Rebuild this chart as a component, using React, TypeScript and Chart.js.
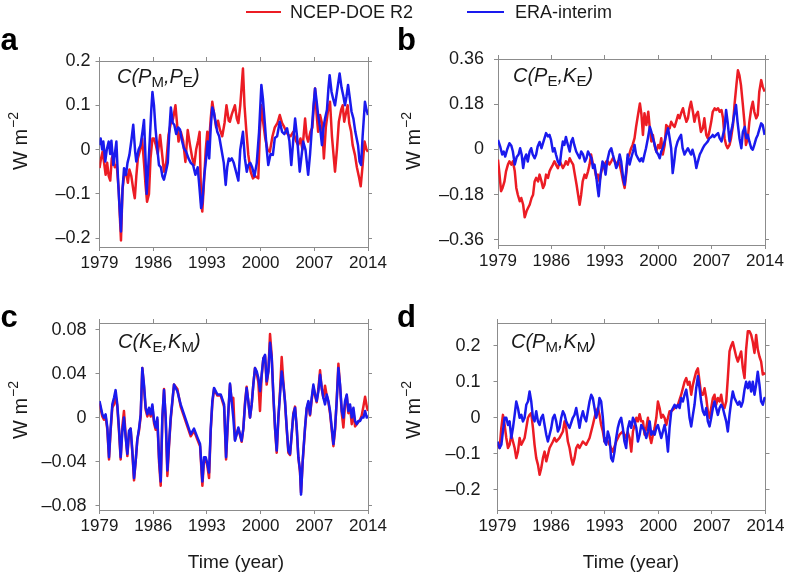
import React, { useEffect, useRef } from 'react';
import { Chart, registerables } from 'chart.js';

Chart.register(...registerables);

type Pt = [number, number];

// ---------- axis ticks ----------
const yearTicks = [1979, 1986, 1993, 2000, 2007, 2014];
const yearLabels = ['1979', '1986', '1993', '2000', '2007', '2014'];

const NEG = '\u2013';
const aTicks = [-0.2, -0.1, 0, 0.1, 0.2];
const aTickLabels = [NEG + '0.2', NEG + '0.1', '0', '0.1', '0.2'];
const bTicks = [-0.36, -0.18, 0, 0.18, 0.36];
const bTickLabels = [NEG + '0.36', NEG + '0.18', '0', '0.18', '0.36'];
const cTicks = [-0.08, -0.04, 0, 0.04, 0.08];
const cTickLabels = [NEG + '0.08', NEG + '0.04', '0', '0.04', '0.08'];
const dTicks = [-0.2, -0.1, 0, 0.1, 0.2];
const dTickLabels = [NEG + '0.2', NEG + '0.1', '0', '0.1', '0.2'];

// ---------- series (year, W m^-2) ----------
const aEra: Pt[] = [
  [1979.0, 0.01], [1979.15, 0.025], [1979.35, 0.0], [1979.5, 0.018], [1979.75, -0.027], [1979.95, 0.0],
  [1980.2, 0.018], [1980.4, -0.01], [1980.55, 0.02], [1980.8, -0.035], [1981.0, -0.01], [1981.2, 0.018],
  [1981.45, -0.08], [1981.65, -0.14], [1981.8, -0.185], [1982.0, -0.09], [1982.2, -0.042], [1982.45, -0.057],
  [1982.65, -0.03], [1982.9, -0.012], [1983.15, 0.02], [1983.4, 0.056], [1983.65, -0.005], [1983.8, -0.027],
  [1984.1, 0.0], [1984.35, 0.01], [1984.6, 0.04], [1984.8, 0.067], [1985.0, -0.02], [1985.15, -0.1],
  [1985.35, -0.04], [1985.55, 0.02], [1985.75, 0.09], [1985.9, 0.13], [1986.1, 0.1], [1986.3, 0.048],
  [1986.55, 0.0], [1986.75, -0.035], [1987.0, -0.04], [1987.2, -0.06], [1987.4, -0.068], [1987.65, -0.05],
  [1987.9, -0.03], [1988.1, 0.04], [1988.3, 0.095], [1988.55, 0.06], [1988.75, 0.056], [1989.0, 0.035],
  [1989.25, 0.05], [1989.5, 0.045], [1989.75, 0.02], [1990.0, 0.003], [1990.3, -0.005], [1990.6, -0.02],
  [1990.9, -0.03], [1991.2, -0.035], [1991.5, -0.057], [1991.8, -0.04], [1992.0, -0.08], [1992.25, -0.132],
  [1992.4, -0.12], [1992.65, -0.06], [1992.9, -0.02], [1993.1, 0.018], [1993.3, -0.02], [1993.5, 0.05],
  [1993.7, 0.095], [1993.9, 0.085], [1994.15, 0.06], [1994.35, 0.04], [1994.6, 0.03], [1994.9, 0.0],
  [1995.2, -0.03], [1995.45, -0.08], [1995.65, -0.04], [1995.85, -0.02], [1996.0, -0.025], [1996.25, -0.02],
  [1996.5, -0.03], [1996.8, -0.05], [1997.1, -0.07], [1997.35, 0.0], [1997.7, 0.04], [1997.95, -0.02],
  [1998.2, -0.05], [1998.4, -0.035], [1998.65, -0.03], [1998.9, -0.04], [1999.2, -0.06], [1999.5, -0.03],
  [1999.8, 0.04], [2000.1, 0.146], [2000.3, 0.115], [2000.55, 0.06], [2000.8, 0.0], [2001.0, -0.035],
  [2001.3, -0.01], [2001.6, -0.012], [2001.85, 0.026], [2002.15, 0.03], [2002.5, 0.063], [2002.8, 0.04],
  [2003.1, 0.035], [2003.45, 0.048], [2003.75, 0.02], [2004.0, -0.035], [2004.25, 0.02], [2004.5, 0.07],
  [2004.75, 0.03], [2005.1, -0.05], [2005.3, -0.02], [2005.55, 0.018], [2005.85, 0.0], [2006.2, -0.057],
  [2006.45, -0.01], [2006.65, 0.04], [2006.9, 0.1], [2007.1, 0.138], [2007.3, 0.11], [2007.5, 0.078],
  [2007.75, 0.05], [2008.0, 0.01], [2008.2, 0.05], [2008.4, 0.07], [2008.65, 0.09], [2008.85, 0.14],
  [2009.0, 0.168], [2009.25, 0.13], [2009.45, 0.115], [2009.7, 0.1], [2009.95, 0.13], [2010.3, 0.172],
  [2010.55, 0.14], [2010.8, 0.12], [2011.0, 0.1], [2011.2, 0.12], [2011.4, 0.146], [2011.6, 0.12],
  [2011.85, 0.086], [2012.1, 0.07], [2012.35, 0.04], [2012.7, 0.01], [2012.9, -0.027], [2013.1, -0.035],
  [2013.3, 0.03], [2013.6, 0.108], [2013.8, 0.09], [2014.0, 0.078],
];
const aNcep: Pt[] = [
  [1979.0, -0.042], [1979.2, -0.02], [1979.4, -0.005], [1979.6, -0.03], [1979.8, -0.057], [1980.0, -0.03],
  [1980.2, -0.06], [1980.4, -0.07], [1980.6, -0.02], [1980.8, -0.01], [1981.0, -0.04], [1981.25, -0.035],
  [1981.5, -0.09], [1981.65, -0.15], [1981.8, -0.205], [1982.0, -0.09], [1982.2, -0.06], [1982.45, -0.05],
  [1982.7, -0.075], [1982.9, -0.045], [1983.15, -0.06], [1983.4, -0.09], [1983.6, -0.11], [1983.8, -0.06],
  [1984.0, -0.02], [1984.3, 0.0], [1984.55, 0.025], [1984.8, -0.03], [1985.0, -0.08], [1985.2, -0.118],
  [1985.45, -0.1], [1985.65, -0.02], [1985.9, 0.025], [1986.1, 0.025], [1986.35, 0.01], [1986.6, -0.01],
  [1986.9, 0.033], [1987.1, 0.0], [1987.4, -0.05], [1987.7, -0.03], [1988.0, 0.033], [1988.3, 0.06],
  [1988.6, 0.07], [1988.9, 0.1], [1989.1, 0.06], [1989.3, 0.018], [1989.6, 0.04], [1989.9, 0.02],
  [1990.2, -0.028], [1990.5, 0.044], [1990.8, 0.01], [1991.1, -0.02], [1991.35, -0.035], [1991.6, 0.0],
  [1991.85, 0.02], [1992.05, 0.04], [1992.25, -0.12], [1992.4, -0.14], [1992.6, -0.08], [1992.85, 0.0],
  [1993.05, 0.04], [1993.3, 0.02], [1993.5, 0.07], [1993.7, 0.108], [1993.95, 0.08], [1994.2, 0.05],
  [1994.45, 0.065], [1994.7, 0.045], [1995.0, 0.03], [1995.3, 0.06], [1995.55, 0.1], [1995.85, 0.065],
  [1996.0, 0.063], [1996.25, 0.08], [1996.65, 0.1], [1996.9, 0.07], [1997.1, 0.06], [1997.35, 0.1],
  [1997.7, 0.183], [1997.9, 0.1], [1998.15, 0.04], [1998.4, -0.012], [1998.7, -0.05], [1999.0, -0.065],
  [1999.3, -0.06], [1999.7, -0.065], [1999.9, 0.04], [2000.1, 0.1], [2000.35, 0.06], [2000.6, 0.026],
  [2000.9, 0.0], [2001.2, -0.005], [2001.55, 0.03], [2001.85, 0.05], [2002.2, 0.06], [2002.5, 0.078],
  [2002.8, 0.06], [2003.1, 0.05], [2003.35, 0.04], [2003.6, 0.033], [2003.9, 0.03], [2004.25, 0.04],
  [2004.6, 0.02], [2004.9, 0.01], [2005.2, 0.025], [2005.45, 0.0], [2005.8, 0.07], [2006.0, 0.03],
  [2006.2, 0.018], [2006.5, 0.04], [2006.75, 0.05], [2006.95, 0.1], [2007.1, 0.138], [2007.3, 0.08],
  [2007.5, 0.04], [2007.75, 0.078], [2008.0, 0.06], [2008.25, -0.02], [2008.5, 0.05], [2008.8, 0.09],
  [2009.05, 0.108], [2009.3, 0.03], [2009.55, -0.02], [2009.7, -0.05], [2009.95, 0.0], [2010.2, 0.063],
  [2010.5, 0.09], [2010.7, 0.1], [2010.9, 0.063], [2011.1, 0.08], [2011.35, 0.1], [2011.55, 0.06],
  [2011.8, 0.04], [2012.0, 0.01], [2012.3, -0.012], [2012.55, -0.04], [2012.8, -0.06], [2013.05, -0.083],
  [2013.3, -0.035], [2013.55, 0.018], [2013.8, 0.0], [2014.0, -0.005],
];

const bEra: Pt[] = [
  [1979.0, 0.038], [1979.3, 0.01], [1979.55, -0.02], [1979.75, -0.008], [1979.95, -0.028], [1980.2, 0.0],
  [1980.5, 0.025], [1980.75, 0.015], [1980.95, -0.008], [1981.2, -0.06], [1981.45, -0.03], [1981.7, -0.02],
  [1981.9, 0.005], [1982.1, -0.02], [1982.3, -0.074], [1982.5, -0.035], [1982.7, -0.02], [1982.9, -0.048],
  [1983.15, -0.008], [1983.35, 0.005], [1983.55, -0.02], [1983.8, -0.035], [1984.0, -0.02], [1984.2, 0.012],
  [1984.45, 0.03], [1984.7, 0.005], [1984.9, 0.025], [1985.1, 0.045], [1985.3, 0.065], [1985.55, 0.052],
  [1985.75, 0.058], [1985.95, 0.038], [1986.2, -0.008], [1986.4, 0.005], [1986.6, -0.02], [1986.85, -0.048],
  [1987.1, -0.06], [1987.3, -0.008], [1987.5, 0.032], [1987.7, 0.018], [1987.9, 0.05], [1988.1, 0.025],
  [1988.4, -0.008], [1988.6, 0.032], [1988.8, 0.045], [1989.0, 0.018], [1989.25, -0.008], [1989.45, -0.02],
  [1989.7, -0.035], [1989.9, -0.008], [1990.15, -0.02], [1990.4, -0.048], [1990.6, -0.035], [1990.8, -0.008],
  [1991.0, -0.02], [1991.25, -0.035], [1991.45, -0.074], [1991.65, -0.06], [1991.9, -0.113], [1992.05, -0.153],
  [1992.2, -0.186], [1992.45, -0.1], [1992.7, -0.048], [1992.9, -0.06], [1993.1, -0.1], [1993.3, -0.048],
  [1993.6, -0.008], [1993.85, 0.005], [1994.05, -0.02], [1994.3, -0.048], [1994.5, -0.074], [1994.7, -0.06],
  [1994.95, -0.02], [1995.15, -0.048], [1995.4, -0.113], [1995.6, -0.14], [1995.8, -0.087], [1996.0, -0.02],
  [1996.25, -0.06], [1996.45, -0.035], [1996.7, -0.008], [1996.9, 0.018], [1997.1, -0.02], [1997.35, -0.035],
  [1997.6, -0.047], [1997.8, -0.035], [1998.0, -0.048], [1998.2, -0.02], [1998.4, 0.005], [1998.65, 0.045],
  [1998.9, 0.09], [1999.1, 0.07], [1999.3, 0.045], [1999.55, 0.018], [1999.75, -0.008], [2000.0, -0.02],
  [2000.2, -0.035], [2000.4, -0.008], [2000.6, 0.005], [2000.85, 0.032], [2001.05, 0.058], [2001.3, 0.084],
  [2001.5, 0.045], [2001.7, 0.005], [2001.9, -0.094], [2002.1, -0.048], [2002.3, 0.005], [2002.55, 0.032],
  [2002.75, 0.045], [2003.0, 0.058], [2003.2, 0.005], [2003.45, -0.02], [2003.65, -0.008], [2003.9, 0.005],
  [2004.1, -0.008], [2004.3, -0.02], [2004.5, -0.001], [2004.8, -0.035], [2005.0, -0.074], [2005.2, -0.048],
  [2005.45, -0.02], [2005.65, -0.008], [2005.85, 0.005], [2006.1, 0.018], [2006.3, 0.025], [2006.5, 0.032],
  [2006.7, 0.045], [2006.95, 0.05], [2007.15, 0.058], [2007.35, 0.05], [2007.6, 0.058], [2007.85, 0.065],
  [2008.05, 0.045], [2008.3, 0.032], [2008.5, 0.058], [2008.7, 0.084], [2008.9, 0.157], [2009.1, 0.11],
  [2009.35, 0.032], [2009.55, 0.07], [2009.75, 0.097], [2009.95, 0.137], [2010.2, 0.177], [2010.4, 0.11],
  [2010.65, 0.045], [2010.9, 0.005], [2011.1, 0.07], [2011.35, 0.09], [2011.55, 0.045], [2011.75, 0.058],
  [2011.95, 0.032], [2012.2, 0.005], [2012.4, -0.001], [2012.6, 0.018], [2012.85, 0.045], [2013.05, 0.058],
  [2013.3, 0.084], [2013.5, 0.104], [2013.7, 0.097], [2013.95, 0.058],
];
const bNcep: Pt[] = [
  [1979.0, -0.04], [1979.2, -0.1], [1979.4, -0.166], [1979.6, -0.153], [1979.85, -0.127], [1980.05, -0.087],
  [1980.3, -0.06], [1980.5, -0.047], [1980.75, -0.06], [1980.95, -0.047], [1981.2, -0.087], [1981.4, -0.153],
  [1981.6, -0.18], [1981.85, -0.206], [1982.05, -0.193], [1982.3, -0.22], [1982.5, -0.27], [1982.75, -0.245],
  [1982.95, -0.232], [1983.15, -0.22], [1983.4, -0.193], [1983.6, -0.18], [1983.8, -0.127], [1984.0, -0.113],
  [1984.25, -0.127], [1984.45, -0.1], [1984.7, -0.127], [1984.9, -0.153], [1985.1, -0.14], [1985.3, -0.1],
  [1985.55, -0.113], [1985.75, -0.087], [1985.95, -0.074], [1986.2, -0.06], [1986.4, -0.047], [1986.6, -0.06],
  [1986.85, -0.074], [1987.1, -0.047], [1987.3, -0.06], [1987.5, -0.074], [1987.75, -0.06], [1987.9, -0.047],
  [1988.15, -0.06], [1988.4, -0.035], [1988.6, -0.047], [1988.85, -0.06], [1989.0, -0.087], [1989.3, -0.14],
  [1989.5, -0.18], [1989.7, -0.22], [1989.9, -0.18], [1990.1, -0.127], [1990.35, -0.1], [1990.55, -0.113],
  [1990.8, -0.087], [1991.0, -0.06], [1991.2, -0.02], [1991.45, -0.06], [1991.65, -0.074], [1991.9, -0.113],
  [1992.1, -0.1], [1992.3, -0.127], [1992.55, -0.087], [1992.75, -0.074], [1992.95, -0.06], [1993.2, -0.047],
  [1993.4, -0.047], [1993.6, -0.06], [1993.85, -0.047], [1994.05, -0.035], [1994.3, -0.047], [1994.5, -0.06],
  [1994.75, -0.047], [1994.95, -0.06], [1995.15, -0.087], [1995.4, -0.127], [1995.6, -0.153], [1995.8, -0.1],
  [1996.0, -0.035], [1996.2, -0.02], [1996.45, 0.005], [1996.65, 0.018], [1996.9, 0.045], [1997.1, 0.09],
  [1997.35, 0.137], [1997.6, 0.183], [1997.8, 0.14], [1998.0, 0.058], [1998.2, 0.144], [1998.45, 0.097],
  [1998.7, 0.15], [1998.9, 0.084], [1999.1, 0.032], [1999.3, 0.058], [1999.55, 0.012], [1999.75, -0.008],
  [2000.0, 0.018], [2000.2, 0.005], [2000.4, 0.045], [2000.6, -0.02], [2000.85, 0.018], [2001.05, 0.097],
  [2001.3, 0.09], [2001.5, 0.084], [2001.7, 0.11], [2001.95, 0.097], [2002.15, 0.09], [2002.35, 0.11],
  [2002.6, 0.137], [2002.8, 0.124], [2003.0, 0.144], [2003.25, 0.164], [2003.45, 0.137], [2003.7, 0.11],
  [2003.9, 0.124], [2004.1, 0.164], [2004.3, 0.19], [2004.55, 0.15], [2004.75, 0.11], [2004.95, 0.137],
  [2005.2, 0.15], [2005.4, 0.11], [2005.6, 0.07], [2005.85, 0.084], [2006.05, 0.124], [2006.3, 0.058],
  [2006.5, 0.045], [2006.7, 0.07], [2006.95, 0.11], [2007.15, 0.15], [2007.4, 0.164], [2007.6, 0.157],
  [2007.85, 0.164], [2008.05, 0.15], [2008.3, 0.157], [2008.5, 0.124], [2008.7, 0.045], [2008.9, 0.018],
  [2009.1, 0.005], [2009.35, 0.018], [2009.55, 0.045], [2009.8, 0.097], [2010.0, 0.177], [2010.25, 0.256],
  [2010.45, 0.315], [2010.65, 0.295], [2010.85, 0.256], [2011.1, 0.177], [2011.3, 0.11], [2011.5, 0.018],
  [2011.75, 0.045], [2011.95, 0.11], [2012.2, 0.164], [2012.4, 0.19], [2012.6, 0.15], [2012.85, 0.124],
  [2013.05, 0.137], [2013.25, 0.23], [2013.5, 0.276], [2013.7, 0.25], [2013.95, 0.23],
];

const cEra: Pt[] = [
  [1979.0, 0.015], [1979.37, 0.003], [1979.58, 0.0], [1979.8, 0.003], [1980.02, -0.009], [1980.24, -0.036],
  [1980.45, -0.01], [1980.67, 0.012], [1980.89, 0.018], [1981.1, 0.025], [1981.32, 0.012], [1981.54, -0.01],
  [1981.76, -0.036], [1981.98, -0.012], [1982.19, 0.0], [1982.41, -0.018], [1982.63, -0.033], [1982.85, -0.012],
  [1983.06, -0.01], [1983.28, -0.03], [1983.5, -0.055], [1983.71, -0.04], [1983.93, -0.02], [1984.15, -0.01],
  [1984.37, 0.003], [1984.58, 0.045], [1984.8, 0.03], [1985.02, 0.009], [1985.24, 0.003], [1985.45, 0.009],
  [1985.67, 0.003], [1985.89, 0.012], [1986.11, -0.003], [1986.32, -0.009], [1986.54, 0.0], [1986.76, -0.036],
  [1986.98, -0.058], [1987.19, 0.0], [1987.41, 0.025], [1987.63, 0.0], [1987.85, -0.048], [1988.06, -0.024],
  [1988.28, 0.0], [1988.71, 0.03], [1989.15, 0.024], [1989.58, 0.012], [1990.02, 0.003], [1990.45, -0.006],
  [1990.89, -0.015], [1991.32, -0.01], [1991.76, -0.018], [1992.11, -0.024], [1992.41, -0.058], [1992.63, -0.036],
  [1992.85, -0.036], [1993.06, -0.042], [1993.28, -0.05], [1993.5, -0.01], [1993.71, 0.015], [1993.93, 0.027],
  [1994.37, 0.021], [1994.8, 0.021], [1995.24, 0.012], [1995.5, -0.036], [1995.75, 0.0], [1996.01, 0.031],
  [1996.23, 0.015], [1996.44, 0.0], [1996.66, -0.021], [1996.88, -0.015], [1997.1, -0.009], [1997.31, -0.015],
  [1997.53, -0.021], [1997.75, -0.01], [1997.97, 0.012], [1998.18, 0.027], [1998.4, 0.015], [1998.62, 0.0],
  [1998.84, 0.012], [1999.05, 0.03], [1999.27, 0.045], [1999.49, 0.042], [1999.71, 0.036], [1999.92, 0.024],
  [2000.14, 0.039], [2000.36, 0.054], [2000.58, 0.057], [2000.79, 0.033], [2001.01, 0.042], [2001.23, 0.068],
  [2001.45, 0.054], [2001.66, 0.021], [2001.88, -0.009], [2002.1, -0.03], [2002.31, 0.0], [2002.53, 0.021],
  [2002.75, 0.042], [2002.97, 0.03], [2003.18, 0.015], [2003.4, -0.009], [2003.62, -0.03], [2003.84, -0.033],
  [2004.05, -0.015], [2004.27, 0.003], [2004.49, 0.009], [2004.71, -0.009], [2004.92, -0.036], [2005.14, -0.048],
  [2005.27, -0.07], [2005.49, -0.039], [2005.79, -0.009], [2006.01, 0.009], [2006.23, 0.015], [2006.44, 0.003],
  [2006.66, 0.018], [2006.88, 0.03], [2007.1, 0.021], [2007.31, 0.015], [2007.53, 0.024], [2007.75, 0.039],
  [2007.97, 0.027], [2008.18, 0.018], [2008.4, 0.012], [2008.62, 0.021], [2008.84, 0.015], [2009.05, 0.006],
  [2009.27, -0.009], [2009.49, -0.024], [2009.71, -0.009], [2009.92, 0.015], [2010.14, 0.045], [2010.36, 0.03],
  [2010.58, 0.006], [2010.79, 0.0], [2011.01, 0.015], [2011.23, 0.021], [2011.44, 0.006], [2011.66, 0.012],
  [2011.88, 0.0], [2012.1, 0.009], [2012.31, -0.003], [2012.53, -0.006], [2012.75, -0.003], [2012.97, -0.003],
  [2013.18, 0.0], [2013.4, 0.0], [2013.62, 0.006], [2013.84, 0.0], [2014.0, 0.002],
];
const cNcep: Pt[] = [
  [1979.0, 0.013], [1979.37, 0.001], [1979.58, -0.002], [1979.8, 0.001], [1980.02, -0.011], [1980.24, -0.038],
  [1980.45, -0.012], [1980.67, 0.009], [1980.89, 0.012], [1981.1, 0.02], [1981.32, 0.01], [1981.54, -0.012],
  [1981.76, -0.038], [1981.98, -0.008], [1982.19, 0.006], [1982.41, -0.016], [1982.63, -0.035], [1982.85, -0.014],
  [1983.06, -0.01], [1983.28, -0.032], [1983.5, -0.057], [1983.71, -0.04], [1983.93, -0.02], [1984.15, -0.012],
  [1984.37, 0.001], [1984.58, 0.045], [1984.8, 0.028], [1985.02, 0.007], [1985.24, 0.001], [1985.45, 0.007],
  [1985.67, 0.001], [1985.89, 0.01], [1986.11, -0.005], [1986.32, -0.011], [1986.54, -0.002], [1986.76, -0.04],
  [1986.98, -0.062], [1987.19, -0.002], [1987.41, 0.026], [1987.63, -0.002], [1987.85, -0.053], [1988.06, -0.026],
  [1988.28, -0.002], [1988.71, 0.03], [1989.15, 0.026], [1989.58, 0.01], [1990.02, 0.001], [1990.45, -0.008],
  [1990.89, -0.017], [1991.32, -0.012], [1991.76, -0.02], [1992.11, -0.026], [1992.41, -0.062], [1992.63, -0.038],
  [1992.85, -0.038], [1993.06, -0.044], [1993.28, -0.055], [1993.5, -0.012], [1993.71, 0.013], [1993.93, 0.026],
  [1994.37, 0.02], [1994.8, 0.02], [1995.24, 0.01], [1995.5, -0.038], [1995.75, -0.002], [1996.01, 0.03],
  [1996.23, 0.015], [1996.44, 0.018], [1996.66, -0.02], [1996.88, -0.015], [1997.1, -0.01], [1997.31, -0.016],
  [1997.53, -0.022], [1997.75, -0.01], [1997.97, 0.014], [1998.18, 0.028], [1998.4, 0.014], [1998.62, 0.0],
  [1998.84, 0.012], [1999.05, 0.03], [1999.27, 0.045], [1999.49, 0.04], [1999.71, 0.032], [1999.92, 0.006],
  [2000.14, 0.038], [2000.36, 0.054], [2000.58, 0.056], [2000.79, 0.03], [2001.01, 0.042], [2001.23, 0.076],
  [2001.45, 0.056], [2001.66, 0.02], [2001.88, -0.01], [2002.1, -0.032], [2002.31, -0.002], [2002.53, 0.024],
  [2002.75, 0.055], [2002.97, 0.032], [2003.18, 0.014], [2003.4, -0.01], [2003.62, -0.032], [2003.84, -0.034],
  [2004.05, -0.016], [2004.27, 0.004], [2004.49, 0.01], [2004.71, -0.01], [2004.92, -0.036], [2005.14, -0.05],
  [2005.27, -0.068], [2005.49, -0.04], [2005.79, -0.01], [2006.01, 0.008], [2006.23, 0.014], [2006.44, 0.002],
  [2006.66, 0.016], [2006.88, 0.028], [2007.1, 0.02], [2007.31, 0.014], [2007.53, 0.026], [2007.75, 0.043],
  [2007.97, 0.026], [2008.18, 0.018], [2008.4, 0.029], [2008.62, 0.02], [2008.84, 0.014], [2009.05, 0.004],
  [2009.27, -0.011], [2009.49, -0.026], [2009.71, -0.011], [2009.92, 0.016], [2010.14, 0.049], [2010.36, 0.028],
  [2010.58, 0.004], [2010.79, -0.009], [2011.01, 0.012], [2011.23, 0.02], [2011.44, 0.004], [2011.66, 0.01],
  [2011.88, -0.006], [2012.1, 0.006], [2012.31, -0.008], [2012.53, -0.006], [2012.75, -0.004], [2012.97, -0.002],
  [2013.18, 0.002], [2013.4, 0.01], [2013.62, 0.019], [2013.84, 0.01], [2014.0, 0.006],
];

const dEra: Pt[] = [
  [1979.0, -0.066], [1979.28, -0.084], [1979.5, -0.075], [1979.71, -0.038], [1979.93, 0.0], [1980.15, 0.0],
  [1980.37, -0.02], [1980.58, -0.01], [1980.8, -0.056], [1981.02, -0.028], [1981.24, 0.008], [1981.45, 0.045],
  [1981.67, 0.027], [1981.89, 0.0], [1982.11, 0.008], [1982.32, -0.01], [1982.54, 0.0], [1982.76, 0.036],
  [1982.98, 0.045], [1983.19, 0.073], [1983.41, 0.045], [1983.63, 0.0], [1983.84, -0.01], [1984.06, 0.018],
  [1984.28, -0.01], [1984.5, -0.02], [1984.71, 0.0], [1984.93, 0.008], [1985.15, -0.02], [1985.37, -0.047],
  [1985.58, -0.066], [1985.8, -0.047], [1986.02, -0.028], [1986.24, 0.0], [1986.45, 0.008], [1986.67, -0.01],
  [1986.89, -0.038], [1987.1, -0.028], [1987.32, 0.0], [1987.54, 0.018], [1987.76, 0.008], [1987.97, -0.01],
  [1988.19, -0.02], [1988.41, -0.028], [1988.84, 0.0], [1989.06, 0.008], [1989.28, 0.027], [1989.5, 0.0],
  [1989.71, -0.028], [1989.93, 0.0], [1990.15, 0.018], [1990.37, 0.0], [1990.58, -0.01], [1990.8, 0.018],
  [1991.02, 0.045], [1991.24, 0.064], [1991.45, 0.055], [1991.67, 0.027], [1991.89, 0.0], [1992.11, 0.018],
  [1992.32, 0.055], [1992.54, 0.045], [1992.76, 0.0], [1992.98, -0.066], [1993.19, -0.075], [1993.41, -0.038],
  [1993.63, -0.056], [1993.84, -0.112], [1994.06, -0.121], [1994.28, -0.094], [1994.5, -0.056], [1994.71, -0.028],
  [1994.93, -0.01], [1995.15, 0.0], [1995.37, -0.028], [1995.58, -0.066], [1995.8, -0.084], [1996.02, -0.03],
  [1996.25, -0.01], [1996.47, -0.028], [1996.69, 0.0], [1996.91, -0.01], [1997.13, -0.028], [1997.34, -0.066],
  [1997.56, -0.047], [1997.78, -0.02], [1998.0, -0.028], [1998.21, -0.038], [1998.43, -0.056], [1998.65, -0.038],
  [1998.87, -0.01], [1999.08, -0.047], [1999.3, -0.038], [1999.52, -0.047], [1999.74, -0.028], [1999.95, -0.02],
  [2000.17, -0.038], [2000.39, -0.056], [2000.6, -0.038], [2000.82, -0.02], [2001.04, -0.047], [2001.26, -0.094],
  [2001.47, -0.028], [2001.69, 0.018], [2001.91, 0.027], [2002.13, 0.036], [2002.34, 0.027], [2002.56, 0.036],
  [2002.78, 0.027], [2002.99, 0.055], [2003.21, 0.045], [2003.43, 0.064], [2003.65, 0.078], [2003.87, 0.045],
  [2004.08, 0.0], [2004.3, -0.024], [2004.52, 0.008], [2004.73, 0.036], [2004.95, 0.082], [2005.17, 0.115],
  [2005.39, 0.082], [2005.6, 0.045], [2005.82, 0.018], [2006.04, 0.008], [2006.26, 0.027], [2006.47, -0.01],
  [2006.69, -0.024], [2006.91, 0.0], [2007.13, 0.027], [2007.34, 0.045], [2007.56, 0.027], [2007.78, 0.008],
  [2008.0, 0.027], [2008.21, 0.036], [2008.43, 0.027], [2008.65, 0.008], [2008.87, -0.01], [2009.08, -0.038],
  [2009.3, 0.008], [2009.52, 0.045], [2009.73, 0.073], [2009.95, 0.055], [2010.17, 0.045], [2010.39, 0.036],
  [2010.6, 0.045], [2010.82, 0.031], [2011.04, 0.045], [2011.26, 0.078], [2011.47, 0.1], [2011.69, 0.082],
  [2011.91, 0.1], [2012.13, 0.073], [2012.34, 0.1], [2012.56, 0.064], [2012.78, 0.092], [2012.99, 0.128],
  [2013.21, 0.092], [2013.43, 0.045], [2013.65, 0.036], [2013.87, 0.055], [2014.0, 0.05],
];
const dNcep: Pt[] = [
  [1979.0, -0.075], [1979.28, -0.084], [1979.5, -0.028], [1979.71, 0.008], [1979.93, -0.02], [1980.15, -0.056],
  [1980.37, -0.084], [1980.58, -0.075], [1980.8, -0.047], [1981.02, -0.066], [1981.24, -0.084], [1981.45, -0.112],
  [1981.67, -0.094], [1981.89, -0.056], [1982.11, -0.075], [1982.32, -0.066], [1982.54, -0.056], [1982.76, -0.028],
  [1982.98, 0.0], [1983.19, 0.008], [1983.41, 0.013], [1983.63, -0.028], [1983.84, -0.075], [1984.06, -0.112],
  [1984.28, -0.13], [1984.5, -0.158], [1984.71, -0.14], [1984.93, -0.112], [1985.15, -0.094], [1985.37, -0.121],
  [1985.58, -0.103], [1985.8, -0.084], [1986.02, -0.075], [1986.24, -0.066], [1986.45, -0.056], [1986.67, -0.066],
  [1987.1, -0.056], [1987.54, -0.038], [1987.76, -0.01], [1987.97, -0.028], [1988.19, -0.066], [1988.41, -0.084],
  [1988.63, -0.112], [1988.84, -0.13], [1989.06, -0.112], [1989.28, -0.084], [1989.5, -0.075], [1989.71, -0.084],
  [1989.93, -0.075], [1990.15, -0.066], [1990.58, -0.075], [1991.02, -0.056], [1991.45, -0.02], [1991.67, 0.0],
  [1991.89, 0.018], [1992.11, 0.027], [1992.32, 0.008], [1992.54, -0.02], [1992.76, -0.038], [1992.98, -0.066],
  [1993.19, -0.056], [1993.63, -0.075], [1994.06, -0.094], [1994.5, -0.066], [1994.93, -0.047], [1995.37, -0.038],
  [1995.8, -0.056], [1996.0, -0.04], [1996.25, -0.056], [1996.47, -0.094], [1996.69, -0.038], [1996.91, -0.02],
  [1997.13, 0.0], [1997.34, -0.01], [1997.56, 0.01], [1997.78, -0.01], [1998.0, -0.01], [1998.21, -0.047],
  [1998.43, -0.028], [1998.65, 0.0], [1998.87, -0.05], [1999.08, -0.07], [1999.3, -0.047], [1999.52, -0.028],
  [1999.74, 0.0], [1999.95, 0.045], [2000.17, 0.027], [2000.39, 0.0], [2000.6, 0.008], [2000.82, 0.0],
  [2001.04, -0.02], [2001.26, 0.0], [2001.47, 0.018], [2001.69, 0.018], [2002.13, 0.027], [2002.56, 0.036],
  [2002.99, 0.064], [2003.43, 0.1], [2003.65, 0.11], [2003.87, 0.092], [2004.08, 0.1], [2004.3, 0.064],
  [2004.52, 0.092], [2004.73, 0.11], [2004.95, 0.128], [2005.17, 0.137], [2005.39, 0.1], [2005.6, 0.064],
  [2005.82, 0.064], [2006.04, 0.082], [2006.26, 0.055], [2006.47, 0.018], [2006.69, 0.0], [2006.91, 0.027],
  [2007.13, 0.055], [2007.34, 0.064], [2007.56, 0.036], [2007.78, 0.055], [2008.0, 0.045], [2008.21, 0.064],
  [2008.43, 0.036], [2008.65, 0.027], [2008.87, 0.045], [2009.08, 0.11], [2009.3, 0.184], [2009.52, 0.2],
  [2009.73, 0.21], [2009.95, 0.19], [2010.17, 0.17], [2010.39, 0.156], [2010.6, 0.17], [2010.82, 0.184],
  [2011.04, 0.138], [2011.26, 0.11], [2011.47, 0.19], [2011.69, 0.24], [2011.91, 0.24], [2012.13, 0.23],
  [2012.34, 0.21], [2012.56, 0.18], [2012.78, 0.23], [2012.99, 0.19], [2013.21, 0.17], [2013.43, 0.156],
  [2013.65, 0.12], [2014.0, 0.124],
];

// ---------- styling ----------
const PAGE_W = 788;
const PAGE_H = 576;
const FONT = '"Liberation Sans", Arial, Helvetica, sans-serif';
const TEXT = '#1a1a1a';
const FRAME = '#8c8c8c';
const RED = '#ec1c24';
const BLUE = '#1a1aee';

type Box = { l: number; r: number; t: number; b: number };

type PanelProps = {
  box: Box;
  yMin: number;
  yMax: number;
  yTicks: number[];
  yLabels: string[];
  labelGap: number;
  era: Pt[];
  ncep: Pt[];
};

function Panel({ box, yMin, yMax, yTicks, yLabels, labelGap, era, ncep }: PanelProps) {
  const ref = useRef<HTMLCanvasElement | null>(null);
  useEffect(() => {
    const YW = 70;
    const XH = 36;
    const EDGE = 5;
    const TL = 4;
    const xFont = { family: FONT, size: 17 };
    const yFont = { family: FONT, size: 18 };
    const grid = { display: true, drawOnChartArea: false, drawTicks: true, tickLength: TL, color: FRAME, lineWidth: 1 };
    const border = { display: true, color: FRAME, width: 1 };
    const setTicks = (vals: number[]) => (s: any) => {
      s.ticks = vals.map((v) => ({ value: v }));
    };
    const line = (label: string, pts: Pt[], color: string) => ({
      label,
      data: pts.map(([x, y]) => ({ x, y })),
      borderColor: color,
      borderWidth: 2.5,
      pointRadius: 0,
      tension: 0,
      fill: false,
      borderJoinStyle: 'round',
    });
    const chart = new Chart(ref.current as HTMLCanvasElement, {
      type: 'line',
      data: {
        datasets: [line('ERA-interim', era, BLUE), line('NCEP-DOE R2', ncep, RED)],
      },
      options: {
        responsive: false,
        animation: false,
        devicePixelRatio: 1,
        events: [],
        layout: {
          padding: {
            left: box.l - YW,
            right: PAGE_W - box.r - EDGE,
            top: box.t - EDGE,
            bottom: PAGE_H - box.b - XH,
          },
        },
        plugins: { legend: { display: false }, tooltip: { enabled: false } },
        scales: {
          x: {
            type: 'linear',
            position: 'bottom',
            min: 1979,
            max: 2014,
            afterBuildTicks: setTicks(yearTicks),
            afterFit: (s: any) => {
              s.height = XH;
            },
            ticks: {
              callback: (_v: any, i: number) => yearLabels[i],
              font: xFont,
              color: TEXT,
              padding: 2,
              maxRotation: 0,
              autoSkip: false,
            },
            grid,
            border,
          },
          x2: {
            type: 'linear',
            position: 'top',
            min: 1979,
            max: 2014,
            afterBuildTicks: setTicks(yearTicks),
            afterFit: (s: any) => {
              s.height = EDGE;
            },
            ticks: { display: false },
            grid,
            border,
          },
          y: {
            type: 'linear',
            position: 'left',
            min: yMin,
            max: yMax,
            afterBuildTicks: setTicks(yTicks),
            afterFit: (s: any) => {
              s.width = YW;
            },
            ticks: {
              callback: (_v: any, i: number) => yLabels[i],
              font: yFont,
              color: TEXT,
              padding: labelGap,
              autoSkip: false,
            },
            grid,
            border,
          },
          y2: {
            type: 'linear',
            position: 'right',
            min: yMin,
            max: yMax,
            afterBuildTicks: setTicks(yTicks),
            afterFit: (s: any) => {
              s.width = EDGE;
            },
            ticks: { display: false },
            grid,
            border,
          },
        },
      } as any,
    });
    return () => chart.destroy();
  }, []);
  return (
    <canvas
      ref={ref}
      width={PAGE_W}
      height={PAGE_H}
      style={{ position: 'absolute', left: 0, top: 0, width: PAGE_W, height: PAGE_H }}
    />
  );
}

const abs = (style: React.CSSProperties): React.CSSProperties => ({
  position: 'absolute',
  fontFamily: FONT,
  color: TEXT,
  whiteSpace: 'nowrap',
  lineHeight: 1,
  margin: 0,
  ...style,
});

function PanelTitle({ left, baseline, a, aSub, b, bSub }: { left: number; baseline: number; a: string; aSub: string; b: string; bSub: string }) {
  const size = 20;
  const sub: React.CSSProperties = { fontSize: 15, fontStyle: 'normal', position: 'relative', top: 4 };
  return (
    <div style={abs({ left, top: baseline - 0.8465 * size, fontSize: size, fontStyle: 'italic' })}>
      C(<span>{a}</span>
      <span style={sub}>{aSub}</span>,<span>{b}</span>
      <span style={sub}>{bSub}</span>)
    </div>
  );
}

function YTitle({ cx, cy }: { cx: number; cy: number }) {
  return (
    <div style={abs({ left: cx, top: cy, fontSize: 20, transform: 'translate(-50%, -50%) rotate(-90deg)' })}>
      W m<span style={{ fontSize: 14, position: 'relative', top: -9, marginLeft: 1 }}>{'\u22122'}</span>
    </div>
  );
}

function Letter({ left, baseline, ch }: { left: number; baseline: number; ch: string }) {
  const size = 31;
  return <div style={abs({ left, top: baseline - 0.8465 * size, fontSize: size, fontWeight: 'bold', color: '#000' })}>{ch}</div>;
}

function XTitle({ cx }: { cx: number }) {
  return <div style={abs({ left: cx, top: 568.5 - 0.8465 * 19, fontSize: 19, transform: 'translateX(-50%)' })}>Time (year)</div>;
}

export default function App() {
  return (
    <div style={{ position: 'fixed', left: 0, top: 0, width: PAGE_W, height: PAGE_H, background: '#fff', overflow: 'hidden' }}>
      <Panel box={{ l: 99.5, r: 368, t: 61, b: 247 }} yMin={-0.22} yMax={0.2} yTicks={aTicks} yLabels={aTickLabels} labelGap={5} era={aEra} ncep={aNcep} />
      <Panel box={{ l: 498, r: 765, t: 59, b: 245 }} yMin={-0.38} yMax={0.36} yTicks={bTicks} yLabels={bTickLabels} labelGap={10} era={bEra} ncep={bNcep} />
      <Panel box={{ l: 99.5, r: 368, t: 323, b: 510 }} yMin={-0.084} yMax={0.086} yTicks={cTicks} yLabels={cTickLabels} labelGap={9} era={cEra} ncep={cNcep} />
      <Panel box={{ l: 497.5, r: 765.5, t: 323, b: 510 }} yMin={-0.256} yMax={0.263} yTicks={dTicks} yLabels={dTickLabels} labelGap={13} era={dEra} ncep={dNcep} />

      {/* legend */}
      <div style={{ position: 'absolute', left: 246, top: 10.5, width: 35, height: 2, background: RED }} />
      <div style={abs({ left: 290, top: 18.3 - 0.8465 * 18, fontSize: 18 })}>NCEP-DOE R2</div>
      <div style={{ position: 'absolute', left: 467, top: 10.5, width: 37, height: 2, background: BLUE }} />
      <div style={abs({ left: 515, top: 18.3 - 0.8465 * 18, fontSize: 18 })}>ERA-interim</div>

      {/* panel letters */}
      <Letter left={0.5} baseline={50} ch="a" />
      <Letter left={397} baseline={50} ch="b" />
      <Letter left={0.5} baseline={327} ch="c" />
      <Letter left={397} baseline={327} ch="d" />

      {/* panel titles */}
      <PanelTitle left={117} baseline={83} a="P" aSub="M" b="P" bSub="E" />
      <PanelTitle left={513} baseline={82} a="P" aSub="E" b="K" bSub="E" />
      <PanelTitle left={118} baseline={348} a="K" aSub="E" b="K" bSub="M" />
      <PanelTitle left={511} baseline={348} a="P" aSub="M" b="K" bSub="M" />

      {/* y titles */}
      <YTitle cx={20} cy={141} />
      <YTitle cx={412.5} cy={141} />
      <YTitle cx={19.5} cy={410} />
      <YTitle cx={413} cy={410} />

      {/* x titles */}
      <XTitle cx={236} />
      <XTitle cx={631} />
    </div>
  );
}
